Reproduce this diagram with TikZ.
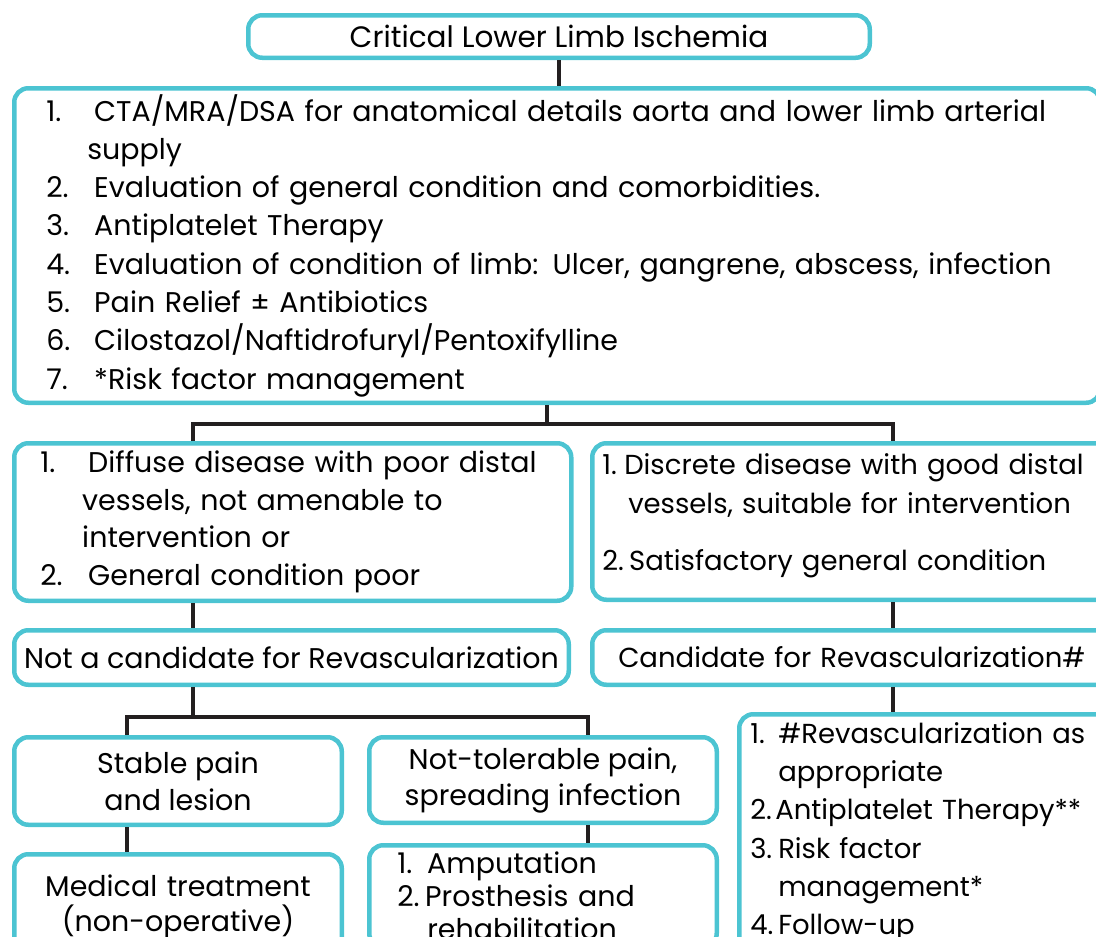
\documentclass[tikz,border=0pt]{standalone}
\usepackage{fontspec}
\setmainfont{Poppins}
\definecolor{boxteal}{RGB}{76,196,210}
\definecolor{linkgray}{RGB}{35,31,32}

\begin{document}
\begin{tikzpicture}[x=1pt,y=-1pt,
  box/.style={draw=boxteal, line width=4.5pt, rounded corners=14pt, fill=white,
    font=\fontsize{28.5}{38.3}\selectfont},
  link/.style={draw=linkgray, line width=4pt}]
\useasboundingbox (0,0) rectangle (1096,937);
\clip (0,0) rectangle (1096,937);

\node[box, minimum width=621.5pt, minimum height=42.5pt, font=\fontsize{29.5}{38}\selectfont] (crit) at (559,36.5) {Critical Lower Limb Ischemia};
\node[box, anchor=north west, minimum height=314.5pt, inner xsep=32pt, text width=1022pt, align=left] (mgmt) at (12,86)
  {\makebox[48pt][l]{1.}CTA/MRA/DSA for anatomical details aorta and lower limb arterial\\
   \hspace*{41pt}supply\\
   \makebox[48pt][l]{2.}Evaluation of general condition and comorbidities.\\
   \makebox[48pt][l]{3.}Antiplatelet Therapy\\
   \makebox[48pt][l]{4.}Evaluation of condition of limb: Ulcer, gangrene, abscess, infection\\
   \makebox[48pt][l]{5.}Pain Relief ± Antibiotics\\
   \makebox[48pt][l]{6.}Cilostazol/Naftidrofuryl/Pentoxifylline\\
   \makebox[48pt][l]{7.}*Risk factor management};

\node[box, anchor=north west, minimum height=157.5pt, inner xsep=26pt, text width=505pt, align=left,
  font=\fontsize{28.5}{37.5}\selectfont] (diffuse) at (12,441)
  {\makebox[48pt][l]{1.}Diffuse disease with poor distal\\
   \hspace*{42pt}vessels, not amenable to\\
   \hspace*{42pt}intervention or\\
   \makebox[48pt][l]{2.}General condition poor};
\node[box, anchor=north west, minimum height=156.5pt, inner xsep=10pt, text width=560pt, align=left,
  font=\fontsize{27.5}{39}\selectfont] (discrete) at (590,441)
  {\makebox[22pt][l]{1.}Discrete disease with good distal\\
   \hspace*{26pt}vessels, suitable for intervention\\[18pt]
   \makebox[27pt][l]{2.}Satisfactory general condition\rule[-18pt]{0pt}{18pt}};

\node[box, minimum width=554.5pt, minimum height=54.5pt] (notcand) at (291.5,657.5) {Not a candidate for Revascularization};
\node[box, anchor=west, minimum height=54.5pt, inner xsep=26pt, text width=520pt, align=left,
  font=\fontsize{27.5}{38}\selectfont] (cand) at (590,657.5)
  {Candidate for Revascularization\#};

\node[box, minimum width=327.5pt, minimum height=87.5pt, align=center,
  font=\fontsize{28.5}{37}\selectfont] (stable) at (178,781) {Stable pain\\and lesion};
\node[box, minimum width=347.5pt, minimum height=85.5pt, align=center,
  font=\fontsize{28.5}{36}\selectfont] (spread) at (543,780) {Not-tolerable pain,\\spreading infection};

\node[box, anchor=north west, inner xsep=12pt, inner ysep=21pt, text width=303.5pt, align=center,
  font=\fontsize{28.5}{35}\selectfont] (medical) at (12,852)
  {Medical treatment\\(non-operative)};
\node[box, anchor=north west, inner xsep=28pt, inner ysep=7pt, text width=291.5pt, align=left,
  font=\fontsize{28.5}{33}\selectfont] (amput) at (367,843)
  {\makebox[30pt][l]{1.}Amputation\\
   \makebox[28pt][l]{2.}Prosthesis and\\
   \hspace*{30pt}rehabilitation};
\node[box, anchor=north west, inner xsep=11pt, inner ysep=8pt, text width=400pt, align=left,
  font=\fontsize{27.5}{38.3}\selectfont] (revasc) at (737,712)
  {\makebox[28pt][l]{1.}\#Revascularization as\\
   \hspace*{28pt}appropriate\\
   \makebox[25pt][l]{2.}Antiplatelet Therapy**\\
   \makebox[28pt][l]{3.}Risk factor\\
   \hspace*{28pt}management*\\
   \makebox[28pt][l]{4.}Follow-up};

\coordinate (j1) at (547,424);
\coordinate (jA) at (193,424);
\coordinate (jB) at (893,424);
\coordinate (j2) at (193,717);
\coordinate (jE) at (127,717);
\coordinate (jF) at (588,717);

\draw[link] (crit.south) -- (crit.south |- mgmt.north);
\draw[link] (mgmt.south -| j1) -- (j1);
\draw[link] (jA |- diffuse.north) -- (jA) -- (jB) -- (jB |- discrete.north);
\draw[link] (jA |- diffuse.south) -- (jA |- notcand.north);
\draw[link] (jB |- discrete.south) -- (jB |- cand.north);
\draw[link] (notcand.south -| j2) -- (j2);
\draw[link] (jE |- stable.north) -- (jE) -- (jF) -- (jF |- spread.north);
\draw[link] (jE |- stable.south) -- (jE |- medical.north);
\draw[link] (jF |- spread.south) -- (jF |- amput.north);
\draw[link] (jB |- cand.south) -- (jB |- revasc.north);
\end{tikzpicture}
\end{document}
